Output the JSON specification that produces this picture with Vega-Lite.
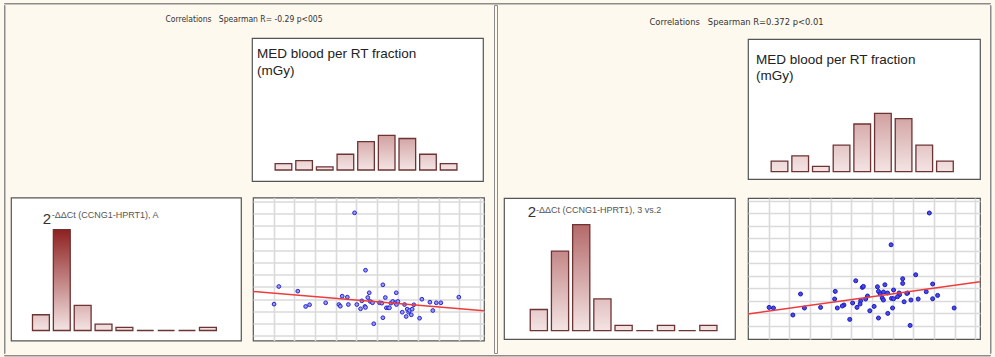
{
  "$schema": "https://vega.github.io/schema/vega-lite/v6.json",
  "background": "#fdf9ee",
  "padding": {"left": 3, "top": 2, "right": 5, "bottom": 3},
  "config": {
    "view": {"stroke": "#555555", "strokeWidth": 1.2, "fill": "white"},
    "font": "Liberation Sans",
    "axis": {"labels": false, "ticks": false, "domain": false, "title": null, "grid": true, "gridColor": "#dadada", "gridWidth": 1.6, "minExtent": 0, "maxExtent": 0, "tickSize": 0, "labelPadding": 0, "offset": 0, "tickCount": 30}
  },
  "datasets": {
    "med": [
      {"lo": 1, "hi": 2, "n": 2}, {"lo": 2, "hi": 3, "n": 3}, {"lo": 3, "hi": 4, "n": 1},
      {"lo": 4, "hi": 5, "n": 5}, {"lo": 5, "hi": 6, "n": 9}, {"lo": 6, "hi": 7, "n": 11},
      {"lo": 7, "hi": 8, "n": 10}, {"lo": 8, "hi": 9, "n": 5}, {"lo": 9, "hi": 10, "n": 2}
    ],
    "ctA": [
      {"lo": 1, "hi": 2, "n": 5}, {"lo": 2, "hi": 3, "n": 32}, {"lo": 3, "hi": 4, "n": 8},
      {"lo": 4, "hi": 5, "n": 2}, {"lo": 5, "hi": 6, "n": 1}, {"lo": 6, "hi": 7, "n": 0},
      {"lo": 7, "hi": 8, "n": 0}, {"lo": 8, "hi": 9, "n": 0}, {"lo": 9, "hi": 10, "n": 1}
    ],
    "ct32": [
      {"lo": 1, "hi": 2, "n": 4}, {"lo": 2, "hi": 3, "n": 15}, {"lo": 3, "hi": 4, "n": 20},
      {"lo": 4, "hi": 5, "n": 6}, {"lo": 5, "hi": 6, "n": 1}, {"lo": 6, "hi": 7, "n": 0},
      {"lo": 7, "hi": 8, "n": 1}, {"lo": 8, "hi": 9, "n": 0}, {"lo": 9, "hi": 10, "n": 1}
    ],
    "scatA": [
      {"med": 4.92, "ct": 10.06}, {"med": 5.45, "ct": 5.37}, {"med": 1.25, "ct": 4.04}, {"med": 2.17, "ct": 3.66},
      {"med": 1.02, "ct": 2.6}, {"med": 2.55, "ct": 2.41}, {"med": 2.74, "ct": 2.55}, {"med": 3.52, "ct": 2.71},
      {"med": 4.16, "ct": 2.57}, {"med": 4.23, "ct": 2.43}, {"med": 4.32, "ct": 3.25}, {"med": 4.57, "ct": 3.17},
      {"med": 4.62, "ct": 2.57}, {"med": 5.03, "ct": 2.57}, {"med": 5.21, "ct": 2.22}, {"med": 5.27, "ct": 2.87},
      {"med": 5.42, "ct": 2.41}, {"med": 5.45, "ct": 2.33}, {"med": 5.56, "ct": 3.14}, {"med": 5.63, "ct": 3.53},
      {"med": 5.68, "ct": 2.82}, {"med": 5.79, "ct": 2.71}, {"med": 5.85, "ct": 1.0}, {"med": 6.13, "ct": 2.71},
      {"med": 6.24, "ct": 2.68}, {"med": 6.29, "ct": 4.18}, {"med": 6.29, "ct": 1.49}, {"med": 6.41, "ct": 3.14},
      {"med": 6.46, "ct": 2.3}, {"med": 6.55, "ct": 2.3}, {"med": 6.61, "ct": 2.3}, {"med": 6.68, "ct": 2.68},
      {"med": 6.77, "ct": 2.82}, {"med": 6.89, "ct": 2.71}, {"med": 6.94, "ct": 3.53}, {"med": 6.95, "ct": 2.57},
      {"med": 7.02, "ct": 2.82}, {"med": 7.23, "ct": 1.94}, {"med": 7.34, "ct": 2.57}, {"med": 7.42, "ct": 1.59},
      {"med": 7.47, "ct": 2.19}, {"med": 7.54, "ct": 1.94}, {"med": 7.58, "ct": 2.08}, {"med": 7.67, "ct": 1.73},
      {"med": 7.71, "ct": 2.19}, {"med": 7.79, "ct": 2.55}, {"med": 8.07, "ct": 1.45}, {"med": 8.18, "ct": 3.0},
      {"med": 8.57, "ct": 2.76}, {"med": 8.71, "ct": 2.08}, {"med": 8.88, "ct": 2.71}, {"med": 9.1, "ct": 2.71},
      {"med": 9.97, "ct": 3.17}
    ],
    "scat32": [
      {"med": 8.77, "ct": 10.02}, {"med": 6.92, "ct": 7.48}, {"med": 8.11, "ct": 5.08}, {"med": 5.21, "ct": 4.6},
      {"med": 7.48, "ct": 4.76}, {"med": 7.48, "ct": 4.39}, {"med": 8.93, "ct": 4.34}, {"med": 2.54, "ct": 3.54},
      {"med": 4.22, "ct": 3.75}, {"med": 5.53, "ct": 4.07}, {"med": 5.58, "ct": 4.15}, {"med": 6.26, "ct": 4.12},
      {"med": 6.62, "ct": 4.28}, {"med": 7.04, "ct": 3.86}, {"med": 6.75, "ct": 3.62}, {"med": 7.31, "ct": 3.62},
      {"med": 7.72, "ct": 3.62}, {"med": 8.62, "ct": 3.72}, {"med": 6.31, "ct": 3.75}, {"med": 6.39, "ct": 3.54},
      {"med": 6.49, "ct": 3.22}, {"med": 6.55, "ct": 3.06}, {"med": 5.78, "ct": 3.38}, {"med": 5.69, "ct": 3.14},
      {"med": 5.45, "ct": 3.0}, {"med": 5.42, "ct": 2.74}, {"med": 5.06, "ct": 2.82}, {"med": 4.64, "ct": 2.66},
      {"med": 4.56, "ct": 2.58}, {"med": 4.19, "ct": 3.14}, {"med": 4.32, "ct": 2.42}, {"med": 3.51, "ct": 2.47},
      {"med": 2.73, "ct": 2.42}, {"med": 1.02, "ct": 2.47}, {"med": 1.23, "ct": 2.42}, {"med": 2.17, "ct": 1.86},
      {"med": 4.92, "ct": 1.51}, {"med": 5.27, "ct": 2.47}, {"med": 5.89, "ct": 2.2}, {"med": 6.1, "ct": 2.55},
      {"med": 6.31, "ct": 1.62}, {"med": 6.76, "ct": 1.99}, {"med": 6.99, "ct": 2.42}, {"med": 6.94, "ct": 3.19},
      {"med": 7.04, "ct": 3.16}, {"med": 7.33, "ct": 3.48}, {"med": 7.55, "ct": 2.92}, {"med": 7.68, "ct": 3.59},
      {"med": 7.88, "ct": 3.06}, {"med": 7.84, "ct": 1.03}, {"med": 8.23, "ct": 3.14}, {"med": 8.93, "ct": 3.16},
      {"med": 9.17, "ct": 3.43}, {"med": 9.97, "ct": 2.42}, {"med": 6.55, "ct": 3.7}, {"med": 7.23, "ct": 3.32}
    ],
    "fitA": [{"med": 0, "ct": 3.63}, {"med": 11.19, "ct": 2.05}],
    "fit32": [{"med": 0, "ct": 1.94}, {"med": 11.22, "ct": 4.52}]
  },
  "spacing": 0,
  "vconcat": [
    {"data": {"values": []}, "mark": "point", "width": 986, "height": 0.5, "view": {"fill": "#8c8c8c", "stroke": "#8c8c8c", "strokeWidth": 1}},
    {
      "spacing": 5,
      "hconcat": [
        {"data": {"values": []}, "mark": "point", "width": 0.5, "height": 348, "view": {"fill": "#8c8c8c", "stroke": "#8c8c8c", "strokeWidth": 1}},
        {
          "spacing": 0,
          "vconcat": [
            {"width": 473, "height": 31.5, "view": {"fill": null, "stroke": null},
             "data": {"values": [{"t": "Correlations\u00a0\u00a0\u00a0Spearman R= -0.29 p<005"}]},
             "mark": {"type": "text", "baseline": "middle", "align": "center", "dx": -3.5, "dy": -1.5, "font": "Liberation Sans Narrow, DejaVu Sans Condensed, sans-serif", "fontSize": 8.5, "color": "#333333"},
             "encoding": {"text": {"field": "t"}}},
            {
              "spacing": 14.5,
              "vconcat": [
                {
                  "spacing": 9,
                  "hconcat": [
                    {"data": {"values": []}, "mark": "point", "width": 230, "height": 143, "view": {"fill": null, "stroke": "transparent", "strokeWidth": 1.2}},
                    {
                      "width": 231, "height": 143,
                      "data": {"name": "med"},
                      "layer": [
                        {"mark": {"type": "bar", "binSpacing": 4, "fill": "#f4e4e4"},
                         "encoding": {
                           "x": {"field": "lo", "type": "quantitative", "bin": "binned", "scale": {"domain": [0, 11.19], "nice": false, "zero": false}, "axis": null},
                           "x2": {"field": "hi"},
                           "y": {"field": "n", "type": "quantitative", "scale": {"domain": [-3.49, 41.9], "nice": false, "zero": false}, "axis": null},
                           "y2": {"datum": 0}}},
                        {"mark": {"type": "bar", "binSpacing": 4, "fill": {"gradient": "linear", "x1": 0, "y1": 0, "x2": 0, "y2": 1, "stops": [{"offset": 0, "color": "#8a1818"}, {"offset": 1, "color": "#f4e4e4"}]}, "stroke": "#6e3333", "strokeWidth": 1.3},
                         "encoding": {
                           "x": {"field": "lo", "type": "quantitative", "bin": "binned"},
                           "x2": {"field": "hi"},
                           "y": {"field": "n", "type": "quantitative"},
                           "y2": {"datum": 0},
                           "fillOpacity": {"field": "n", "type": "quantitative", "scale": {"domain": [0, 33.3], "range": [0, 1], "clamp": true}, "legend": null}}},
                        {"data": {"values": [{"t": "MED blood per RT fraction\n(mGy)"}]},
                         "mark": {"type": "text", "align": "left", "baseline": "alphabetic", "lineBreak": "\n", "lineHeight": 16.5, "fontSize": 13.5, "font": "Liberation Sans", "color": "#222222"},
                         "encoding": {"text": {"field": "t"}, "x": {"datum": 0.24}, "y": {"datum": 35.5}}}
                      ]
                    }
                  ]
                },
                {
                  "spacing": 7,
                  "hconcat": [
                    {
                      "width": 230, "height": 143,
                      "data": {"name": "ctA"},
                      "layer": [
                        {"mark": {"type": "bar", "binSpacing": 4, "fill": "#f4e4e4"},
                         "encoding": {
                           "x": {"field": "lo", "type": "quantitative", "bin": "binned", "scale": {"domain": [0.09, 11.11], "nice": false, "zero": false}, "axis": null},
                           "x2": {"field": "hi"},
                           "y": {"field": "n", "type": "quantitative", "scale": {"domain": [-3.17, 42.2], "nice": false, "zero": false}, "axis": null},
                           "y2": {"datum": 0}}},
                        {"mark": {"type": "bar", "binSpacing": 4, "fill": {"gradient": "linear", "x1": 0, "y1": 0, "x2": 0, "y2": 1, "stops": [{"offset": 0, "color": "#8a1818"}, {"offset": 1, "color": "#f4e4e4"}]}, "stroke": "#6e3333", "strokeWidth": 1.3},
                         "encoding": {
                           "x": {"field": "lo", "type": "quantitative", "bin": "binned"},
                           "x2": {"field": "hi"},
                           "y": {"field": "n", "type": "quantitative"},
                           "y2": {"datum": 0},
                           "fillOpacity": {"field": "n", "type": "quantitative", "scale": {"domain": [0, 33.3], "range": [0, 1], "clamp": true}, "legend": null}}},
                        {"data": {"values": [{"t": "2"}]},
                         "mark": {"type": "text", "align": "left", "baseline": "alphabetic", "fontSize": 15, "font": "Liberation Sans", "color": "#333333"},
                         "encoding": {"text": {"field": "t"}, "x": {"datum": 1.61}, "y": {"datum": 33.65}}},
                        {"data": {"values": [{"t": "-ΔΔCt (CCNG1-HPRT1), A"}]},
                         "mark": {"type": "text", "align": "left", "baseline": "alphabetic", "fontSize": 9, "font": "Liberation Sans", "color": "#555555"},
                         "encoding": {"text": {"field": "t"}, "x": {"datum": 2.04}, "y": {"datum": 35.7}}}
                      ]
                    },
                    {
                      "width": 231, "height": 143,
                      "layer": [
                        {"data": {"name": "scatA"},
                         "mark": {"type": "circle", "size": 14, "fill": "#9a9af5", "stroke": "#2525d0", "strokeWidth": 1, "opacity": 1},
                         "encoding": {
                           "x": {"field": "med", "type": "quantitative", "scale": {"domain": [0, 11.19], "nice": false, "zero": false}, "axis": {"values": [1, 2, 3, 4, 5, 6, 7, 8, 9, 10, 11], "tickCount": 30}},
                           "y": {"field": "ct", "type": "quantitative", "scale": {"domain": [-0.37, 11.31], "nice": false, "zero": false}, "axis": {"values": [0, 1, 2, 3, 4, 5, 6, 7, 8, 9, 10, 11], "tickCount": 30}}}},
                        {"data": {"name": "fitA"},
                         "mark": {"type": "line", "color": "#ee3b3b", "strokeWidth": 1.5},
                         "encoding": {"x": {"field": "med", "type": "quantitative"}, "y": {"field": "ct", "type": "quantitative"}}}
                      ]
                    }
                  ]
                }
              ]
            }
          ]
        },
        {"data": {"values": []}, "mark": "point", "width": 3, "height": 348, "view": {"fill": "#fdf9ee", "stroke": "#8c8c8c", "strokeWidth": 1}},
        {
          "spacing": 0,
          "vconcat": [
            {"width": 476, "height": 33, "view": {"fill": null, "stroke": null},
             "data": {"values": [{"t": "Correlations\u00a0\u00a0\u00a0Spearman R=0.372 p<0.01"}]},
             "mark": {"type": "text", "baseline": "middle", "align": "center", "dx": -5.5, "font": "Liberation Sans Narrow, DejaVu Sans Condensed, sans-serif", "fontSize": 9.3, "color": "#333333"},
             "encoding": {"text": {"field": "t"}}},
            {
              "spacing": 17,
              "vconcat": [
                {
                  "spacing": 11,
                  "hconcat": [
                    {"data": {"values": []}, "mark": "point", "width": 231, "height": 140, "view": {"fill": null, "stroke": "transparent", "strokeWidth": 1.2}},
                    {
                      "width": 232, "height": 140,
                      "data": {"name": "med"},
                      "layer": [
                        {"mark": {"type": "bar", "binSpacing": 4, "fill": "#f4e4e4"},
                         "encoding": {
                           "x": {"field": "lo", "type": "quantitative", "bin": "binned", "scale": {"domain": [0, 11.22], "nice": false, "zero": false}, "axis": null},
                           "x2": {"field": "hi"},
                           "y": {"field": "n", "type": "quantitative", "scale": {"domain": [-1.38, 25.04], "nice": false, "zero": false}, "axis": null},
                           "y2": {"datum": 0}}},
                        {"mark": {"type": "bar", "binSpacing": 4, "fill": {"gradient": "linear", "x1": 0, "y1": 0, "x2": 0, "y2": 1, "stops": [{"offset": 0, "color": "#8a1818"}, {"offset": 1, "color": "#f4e4e4"}]}, "stroke": "#6e3333", "strokeWidth": 1.3},
                         "encoding": {
                           "x": {"field": "lo", "type": "quantitative", "bin": "binned"},
                           "x2": {"field": "hi"},
                           "y": {"field": "n", "type": "quantitative"},
                           "y2": {"datum": 0},
                           "fillOpacity": {"field": "n", "type": "quantitative", "scale": {"domain": [0, 19.8], "range": [0, 1], "clamp": true}, "legend": null}}},
                        {"data": {"values": [{"t": "MED blood per RT fraction\n(mGy)"}]},
                         "mark": {"type": "text", "align": "left", "baseline": "alphabetic", "lineBreak": "\n", "lineHeight": 16.5, "fontSize": 13.5, "font": "Liberation Sans", "color": "#222222"},
                         "encoding": {"text": {"field": "t"}, "x": {"datum": 0.39}, "y": {"datum": 20.4}}}
                      ]
                    }
                  ]
                },
                {
                  "spacing": 8,
                  "hconcat": [
                    {
                      "width": 231, "height": 141,
                      "data": {"name": "ct32"},
                      "layer": [
                        {"mark": {"type": "bar", "binSpacing": 4, "fill": "#f4e4e4"},
                         "encoding": {
                           "x": {"field": "lo", "type": "quantitative", "bin": "binned", "scale": {"domain": [-0.12, 10.78], "nice": false, "zero": false}, "axis": null},
                           "x2": {"field": "hi"},
                           "y": {"field": "n", "type": "quantitative", "scale": {"domain": [-1.57, 25.04], "nice": false, "zero": false}, "axis": null},
                           "y2": {"datum": 0}}},
                        {"mark": {"type": "bar", "binSpacing": 4, "fill": {"gradient": "linear", "x1": 0, "y1": 0, "x2": 0, "y2": 1, "stops": [{"offset": 0, "color": "#8a1818"}, {"offset": 1, "color": "#f4e4e4"}]}, "stroke": "#6e3333", "strokeWidth": 1.3},
                         "encoding": {
                           "x": {"field": "lo", "type": "quantitative", "bin": "binned"},
                           "x2": {"field": "hi"},
                           "y": {"field": "n", "type": "quantitative"},
                           "y2": {"datum": 0},
                           "fillOpacity": {"field": "n", "type": "quantitative", "scale": {"domain": [0, 19.8], "range": [0, 1], "clamp": true}, "legend": null}}},
                        {"data": {"values": [{"t": "2"}]},
                         "mark": {"type": "text", "align": "left", "baseline": "alphabetic", "fontSize": 15, "font": "Liberation Sans", "color": "#333333"},
                         "encoding": {"text": {"field": "t"}, "x": {"datum": 1.0}, "y": {"datum": 21.45}}},
                        {"data": {"values": [{"t": "-ΔΔCt (CCNG1-HPRT1), 3 vs.2"}]},
                         "mark": {"type": "text", "align": "left", "baseline": "alphabetic", "fontSize": 9, "font": "Liberation Sans", "color": "#555555"},
                         "encoding": {"text": {"field": "t"}, "x": {"datum": 1.39}, "y": {"datum": 22.2}}}
                      ]
                    },
                    {
                      "width": 232, "height": 141,
                      "layer": [
                        {"data": {"name": "scat32"},
                         "mark": {"type": "circle", "size": 16, "fill": "#4a4ae8", "stroke": "#1a1ac0", "strokeWidth": 1, "opacity": 1},
                         "encoding": {
                           "x": {"field": "med", "type": "quantitative", "scale": {"domain": [0, 11.22], "nice": false, "zero": false}, "axis": {"values": [1, 2, 3, 4, 5, 6, 7, 8, 9, 10, 11], "tickCount": 30}},
                           "y": {"field": "ct", "type": "quantitative", "scale": {"domain": [-0.06, 11.22], "nice": false, "zero": false}, "axis": {"values": [1, 2, 3, 4, 5, 6, 7, 8, 9, 10, 11], "tickCount": 30}}}},
                        {"data": {"name": "fit32"},
                         "mark": {"type": "line", "color": "#ee3b3b", "strokeWidth": 1.5},
                         "encoding": {"x": {"field": "med", "type": "quantitative"}, "y": {"field": "ct", "type": "quantitative"}}}
                      ]
                    }
                  ]
                }
              ]
            }
          ]
        },
        {"data": {"values": []}, "mark": "point", "width": 0.5, "height": 348, "view": {"fill": "#8c8c8c", "stroke": "#8c8c8c", "strokeWidth": 1}}
      ]
    },
    {"data": {"values": []}, "mark": "point", "width": 986, "height": 0.5, "view": {"fill": "#8c8c8c", "stroke": "#8c8c8c", "strokeWidth": 1}}
  ]
}
